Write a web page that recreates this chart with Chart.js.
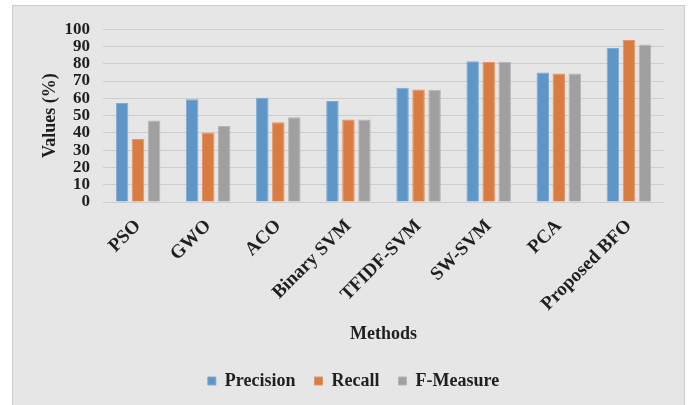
<!DOCTYPE html>
<html>
<head>
<meta charset="utf-8">
<script src="https://cdn.jsdelivr.net/npm/chart.js@4/dist/chart.umd.min.js"></script>
<style>
  html, body { margin: 0; padding: 0; background: #ffffff; }
  body { width: 688px; height: 405px; position: relative; overflow: hidden; }
  #frame {
    position: absolute; left: 12px; top: 5px;
    width: 671px; height: 405px;
    border: 1px solid #cbcbcb; border-bottom: none;
    background: #e6e6e6;
  }
  #chart { display: block; }
</style>
</head>
<body>
<div id="frame"><canvas id="chart" width="671" height="400"></canvas></div>
<script>
// Methods compared
const methods = ['PSO', 'GWO', 'ACO', 'Binary SVM', 'TFIDF-SVM', 'SW-SVM', 'PCA', 'Proposed BFO'];

// Scores per method (%)
const precision = [57.3, 59.4, 60.4, 58.5, 66.1, 81.5, 74.9, 89.1];
const recall    = [36.4, 40.2, 46.1, 47.8, 65.1, 81.0, 74.3, 93.7];
const fMeasure  = [47.2, 44.0, 49.1, 47.8, 65.0, 81.0, 74.3, 91.2];

// Value axis ticks
const yTicks = [0, 10, 20, 30, 40, 50, 60, 70, 80, 90, 100];

const serif = "'Liberation Serif', 'Times New Roman', serif";
const ink = '#1f1f1f';

// Centre the legend under the whole frame rather than the padded layout box
const legendShift = {
  id: 'legendShift',
  afterLayout(chart) {
    const lg = chart.legend;
    if (lg) { lg.left += 15; lg.right += 15; }
  }
};

new Chart(document.getElementById('chart'), {
  type: 'bar',
  data: {
    labels: methods,
    datasets: [
      { label: 'Precision', data: precision, backgroundColor: '#5f96c8', borderColor: '#7eaad3', borderWidth: 1 },
      { label: 'Recall',    data: recall,    backgroundColor: '#d97c41', borderColor: '#e2956a', borderWidth: 1 },
      { label: 'F-Measure', data: fMeasure,  backgroundColor: '#a0a0a0', borderColor: '#b5b5b5', borderWidth: 1 }
    ]
  },
  plugins: [legendShift],
  options: {
    responsive: false,
    animation: false,
    layout: { padding: { left: 0, right: 20, top: 21, bottom: 6 } },
    datasets: { bar: { categoryPercentage: 0.685, barPercentage: 0.78 } },
    plugins: {
      tooltip: { enabled: false },
      legend: {
        position: 'bottom',
        labels: {
          font: { family: serif, size: 18, weight: 'bold' },
          color: ink,
          boxWidth: 8, boxHeight: 8,
          padding: 19
        }
      }
    },
    scales: {
      x: {
        grid: { display: false, drawTicks: false },
        border: { display: false },
        ticks: {
          font: { family: serif, size: 19, weight: 'bold' },
          color: ink,
          minRotation: 45, maxRotation: 45,
          padding: 13,
          autoSkip: false
        },
        title: {
          display: true, text: 'Methods',
          font: { family: serif, size: 18, weight: 'bold' },
          color: ink,
          padding: { top: 0, bottom: 8 }
        },
        afterFit: s => { s.height = 151; }
      },
      y: {
        min: 0, max: 100,
        afterBuildTicks: s => { s.ticks = yTicks.map(v => ({ value: v })); },
        grid: { color: '#cdcdcd', lineWidth: 1, drawTicks: false },
        border: { display: false },
        ticks: {
          font: { family: serif, size: 17, weight: 'bold' },
          color: ink,
          padding: 13,
          autoSkip: false
        },
        title: {
          display: true, text: 'Values (%)',
          font: { family: serif, size: 18, weight: 'bold' },
          color: ink,
          padding: { top: 27, bottom: 0 }
        },
        afterFit: s => { s.width = 90; }
      }
    }
  }
});
</script>
</body>
</html>
